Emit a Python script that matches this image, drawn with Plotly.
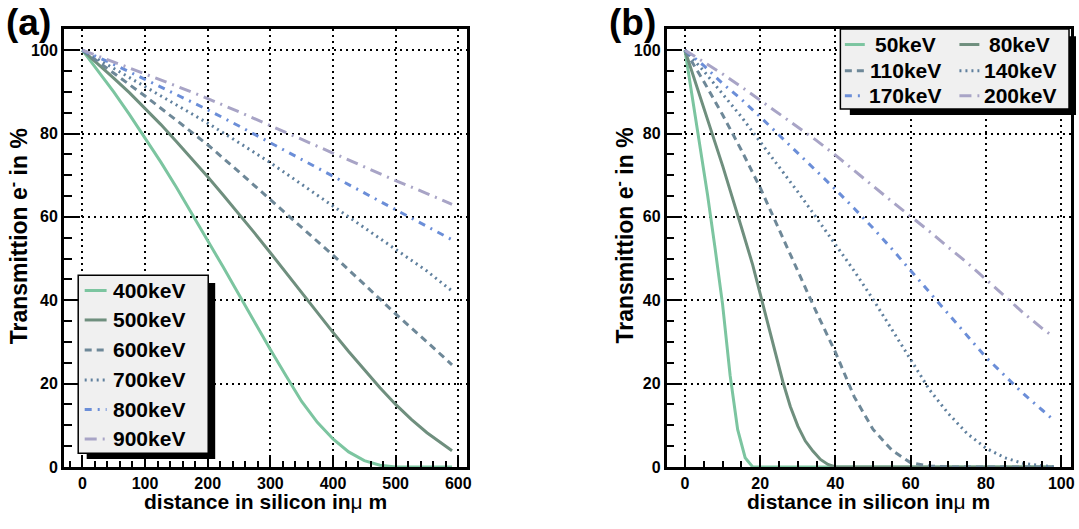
import plotly.graph_objects as go

W, H = 1079, 529

# ---------------- data: panel (a) ----------------
x_a_fine = [0, 25, 50, 75, 100, 125, 150, 175, 200, 225, 250, 275, 300, 325, 350,
            375, 400, 425, 450, 475, 500, 525, 550, 575, 590]
t400 = [100, 95.1, 90, 84.6, 79, 73.2, 67.1, 60.8, 54.4, 47.9, 41.3, 34.7, 28.2, 21.9,
        15.7, 10.7, 6.7, 3.6, 1.5, 0.4, 0, 0, 0, 0, 0]
t500 = [100, 96.7, 93.3, 89.8, 86.1, 82.2, 78.1, 73.9, 69.6, 65.2, 60.7, 56.1, 51.4, 46.6,
        41.8, 37, 32.3, 27.7, 23.3, 19, 15, 11.4, 8.2, 5.4, 3.9]
x_a = [0, 50, 100, 150, 200, 250, 300, 350, 400, 450, 500, 550, 590]
t600 = [100, 94.5, 89, 83.2, 77.3, 70.8, 64.1, 57.4, 50.8, 43.8, 36.7, 30, 24.5]
t700 = [100, 95.6, 91.2, 86.9, 82.5, 77.8, 73, 67.8, 62.6, 57.4, 52.3, 47, 42.2]
t800 = [100, 96.6, 93, 89.4, 85.7, 81.8, 77.8, 73.8, 69.8, 65.8, 61.8, 57.7, 54.5]
t900 = [100, 97.2, 94.3, 91.4, 88.4, 85.2, 81.9, 78.6, 75.3, 72, 68.7, 65.6, 63]

# ---------------- data: panel (b) ----------------
x_b50 = [0, 2, 4, 6, 8, 10, 12, 14, 16, 18, 20, 40, 60, 80, 98]
t50 = [100, 88.5, 77, 65.3, 52.5, 39, 22, 9, 2.2, 0, 0, 0, 0, 0, 0]
x_b80 = [0, 5, 10, 15, 18, 20, 22, 24, 26, 28, 30, 32, 34, 36, 38, 40, 60, 80, 98]
t80 = [100, 86, 72.3, 57.5, 48.5, 41.5, 34.5, 27.5, 20.5, 14.5, 9.8, 6.2, 3.8, 1.8,
       0.6, 0, 0, 0, 0]
x_b = [0, 5, 10, 15, 20, 25, 30, 35, 40, 45, 50, 55, 60, 65, 70, 75, 80, 85, 90, 95, 98]
t110 = [100, 92.5, 84.5, 76, 67, 57, 47, 37, 27.5, 16.8, 9, 4, 1, 0.2, 0, 0, 0, 0, 0, 0, 0]
t140 = [100, 95, 89.5, 84, 78, 72, 66, 59.7, 53.5, 47, 40.2, 33, 25.5, 18.5, 12.8, 8,
        4.5, 2.2, 0.8, 0.2, 0]
t170 = [100, 96.3, 92, 88.2, 84, 79.7, 75.4, 71.1, 66.6, 62, 57.3, 52.3, 47.1, 41.9,
        36.6, 31.3, 26.3, 21.9, 17.5, 13.6, 11.2]
t200 = [100, 97.2, 94.3, 91.2, 88, 84.7, 81.5, 78.3, 74.8, 71.2, 67.4, 63.7, 60.2, 56.5,
        52.7, 49, 45, 40.9, 36.9, 33.2, 31.2]

labels_a = ["400keV", "500keV", "600keV", "700keV", "800keV", "900keV"]
labels_b = ["50keV", "80keV", "110keV", "140keV", "170keV", "200keV"]

series_a = [(x_a_fine, t400), (x_a_fine, t500), (x_a, t600), (x_a, t700), (x_a, t800), (x_a, t900)]
series_b = [(x_b50, t50), (x_b80, t80), (x_b, t110), (x_b, t140), (x_b, t170), (x_b, t200)]

colors = ["#7cc5a0", "#6f8f7e", "#6e8898", "#60809e", "#6b8ed8", "#a8a4c6"]
dashes = ["solid", "solid", "7px,5px", "2px,4px", "7px,6px,2px,6px", "12px,6px,2px,6px"]

FONT = "Liberation Sans, Arial, sans-serif"


def px(x):
    return x / W


def py(y):
    return 1 - y / H


fig = go.Figure()
for i, (xs, ys) in enumerate(series_a):
    fig.add_trace(go.Scatter(x=xs, y=ys, mode="lines", name=labels_a[i], showlegend=False,
                             line=dict(color=colors[i], width=3, dash=dashes[i]),
                             xaxis="x", yaxis="y"))
for i, (xs, ys) in enumerate(series_b):
    fig.add_trace(go.Scatter(x=xs, y=ys, mode="lines", name=labels_b[i], showlegend=False,
                             line=dict(color=colors[i], width=3, dash=dashes[i]),
                             xaxis="x2", yaxis="y2"))

tickfont = dict(family=FONT, size=16, color="black", weight="bold")
grid = dict(showgrid=True, gridcolor="black", gridwidth=2, griddash="2px,4px",
            zeroline=False, showline=True, linecolor="black", linewidth=2.5, mirror=True,
            ticks="inside", tickcolor="black", tickwidth=1.5, tickfont=tickfont)

ydom = [py(475), py(29)]
fig.update_layout(
    width=W, height=H, margin=dict(l=0, r=0, t=0, b=0),
    paper_bgcolor="white", plot_bgcolor="white", showlegend=False,
    xaxis=dict(domain=[px(64), px(469)], range=[-29.7, 614.3], tick0=0, dtick=100,
               ticklen=12, minor=dict(dtick=20, ticks="inside", ticklen=6, tickcolor="black",
                                      showgrid=False),
               anchor="y", **grid),
    yaxis=dict(domain=ydom, range=[0, 105.2], tick0=0, dtick=20, ticklen=16,
               minor=dict(dtick=5, ticks="inside", ticklen=8, tickcolor="black", showgrid=False),
               anchor="x", **grid),
    xaxis2=dict(domain=[px(669), px(1075)], range=[-4.9, 102.6], tick0=0, dtick=20,
                ticklen=12, minor=dict(dtick=5, ticks="inside", ticklen=6, tickcolor="black",
                                       showgrid=False),
                anchor="y2", **grid),
    yaxis2=dict(domain=ydom, range=[0, 105.2], tick0=0, dtick=20, ticklen=16,
                minor=dict(dtick=5, ticks="inside", ticklen=8, tickcolor="black", showgrid=False),
                anchor="x2", **grid),
)

shapes = []
annotations = []

# panel labels and axis titles
for lab, xl in (("(a)", 4), ("(b)", 609)):
    annotations.append(dict(text="<b>%s</b>" % lab, x=px(xl), y=py(0), xref="paper", yref="paper",
                            xanchor="left", yanchor="top", showarrow=False,
                            font=dict(family=FONT, size=37, color="black")))
for xc in (266.5, 872):
    annotations.append(dict(text="<b>distance in silicon in</b>μ<b> m</b>", x=px(xc), y=py(510),
                            xref="paper", yref="paper", xanchor="center", yanchor="middle",
                            showarrow=False, font=dict(family=FONT, size=21, color="black")))
for xc in (17.5, 626):
    annotations.append(dict(text="<b>Transmittion e</b><sup><b>-</b></sup><b> in %</b>",
                            x=px(xc), y=py(240), textangle=-90,
                            xref="paper", yref="paper", xanchor="center", yanchor="middle",
                            showarrow=False, font=dict(family=FONT, size=23, color="black")))

# legend (a)
shapes.append(dict(type="rect", xref="paper", yref="paper", x0=px(87), x1=px(216),
                   y0=py(467), y1=py(288), fillcolor="black", line=dict(width=0), layer="above"))
shapes.append(dict(type="rect", xref="paper", yref="paper", x0=px(78.5), x1=px(209),
                   y0=py(461), y1=py(280), fillcolor="#f0f0f0",
                   line=dict(color="black", width=1.5), layer="above"))
rows_a = [295.5, 325.5, 356, 386.5, 416.5, 446.5]
for i, lab in enumerate(labels_a):
    shapes.append(dict(type="line", xref="paper", yref="paper", x0=px(85), x1=px(107),
                       y0=py(rows_a[i]), y1=py(rows_a[i]), layer="above",
                       line=dict(color=colors[i], width=3, dash=dashes[i])))
    annotations.append(dict(text="<b>%s</b>" % lab, x=px(111), y=py(rows_a[i]),
                            xref="paper", yref="paper", xanchor="left", yanchor="middle",
                            showarrow=False, font=dict(family=FONT, size=21, color="black")))

# legend (b)
shapes.append(dict(type="rect", xref="paper", yref="paper", x0=px(853), x1=px(1080),
                   y0=py(117), y1=py(37), fillcolor="black", line=dict(width=0), layer="above"))
shapes.append(dict(type="rect", xref="paper", yref="paper", x0=px(843.5), x1=px(1073),
                   y0=py(111), y1=py(29.5), fillcolor="#f0f0f0",
                   line=dict(color="black", width=1.5), layer="above"))
rows_b = [45.3, 72, 97.5]
for i, lab in enumerate(labels_b):
    col, row = i % 2, i // 2
    sx0 = 848 if col == 0 else 963
    tc = 908.5 if col == 0 else 1023.3
    yy = rows_b[row]
    shapes.append(dict(type="line", xref="paper", yref="paper", x0=px(sx0), x1=px(sx0 + 20),
                       y0=py(yy), y1=py(yy), layer="above",
                       line=dict(color=colors[i], width=3, dash=dashes[i])))
    annotations.append(dict(text="<b>%s</b>" % lab, x=px(tc), y=py(yy),
                            xref="paper", yref="paper", xanchor="center", yanchor="middle",
                            showarrow=False, font=dict(family=FONT, size=21, color="black")))

fig.update_layout(shapes=shapes, annotations=annotations)
fig.write_html("out.html")
